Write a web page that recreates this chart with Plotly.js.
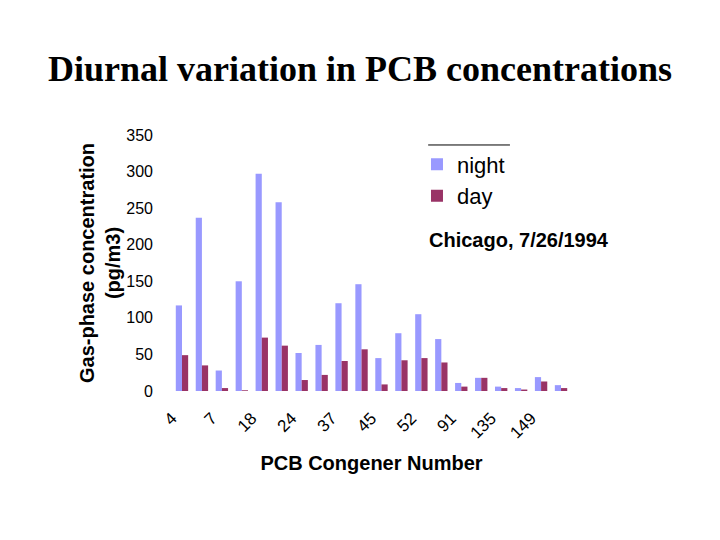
<!DOCTYPE html>
<html>
<head>
<meta charset="utf-8">
<script src="https://cdn.plot.ly/plotly-3.0.1.min.js"></script>
<style>html,body{margin:0;padding:0;background:#fff;}#chart{width:720px;height:540px;}</style>
</head>
<body>
<div id="chart"></div>
<script>
// Category index (20 congener groups), every other one labelled
var groupIndex = [0,1,2,3,4,5,6,7,8,9,10,11,12,13,14,15,16,17,18,19];
var tickPositions = [0,2,4,6,8,10,12,14,16,18];
var tickLabels = ["4","7","18","24","37","45","52","91","135","149"];
var nightValues = [117,237,28,150,297,258,52,63,120,146,45,79,105,71,11,18,6,4,19,8];
var dayValues = [49,35,4,1,73,62,15,22,41,57,9,42,45,39,6,18,4,2,13,4];

var traces = [
  {type:'bar', name:'night', x:groupIndex, y:nightValues, marker:{color:'#9999FF'}},
  {type:'bar', name:'day', x:groupIndex, y:dayValues, marker:{color:'#993366'}}
];

var layout = {
  width:720, height:540,
  margin:{l:172, r:149, t:135, b:149, pad:0},
  paper_bgcolor:'#fff', plot_bgcolor:'#fff',
  barmode:'group', bargap:0.38, bargroupgap:0,
  title:{text:'Diurnal variation in PCB concentrations', x:0.5, xanchor:'center', y:0.874, yanchor:'middle',
         font:{family:'Liberation Serif', size:36, color:'#000', weight:'bold'}},
  showlegend:true,
  legend:{x:0.614, y:0.967, xanchor:'left', yanchor:'top', bgcolor:'rgba(0,0,0,0)',
          font:{family:'Liberation Sans', size:22, color:'#000'}, itemwidth:30, tracegroupgap:0},
  xaxis:{range:[-0.5,19.5], tickmode:'array', tickvals:tickPositions, ticktext:tickLabels, tickangle:-45,
         showline:false, showgrid:false, zeroline:false, ticks:'',
         ticklabelshift:-10, ticklabelstandoff:13,
         tickfont:{family:'Liberation Sans', size:17, color:'#000'},
         title:{text:'PCB Congener Number', font:{family:'Liberation Sans', size:20, color:'#000', weight:'bold'}, standoff:14}},
  yaxis:{range:[0,350], tickmode:'array', tickvals:[0,50,100,150,200,250,300,350],
         showline:false, showgrid:false, zeroline:false, ticks:'', ticklabelstandoff:18,
         tickfont:{family:'Liberation Sans', size:16, color:'#000'},
         title:{text:'Gas-phase concentration<br>(pg/m3)', font:{family:'Liberation Sans', size:20, color:'#000', weight:'bold'}, standoff:0}},
  shapes:[{type:'line', xref:'paper', yref:'paper', x0:0.642, x1:0.847, y0:0.961, y1:0.961, line:{color:'#000', width:1}}],
  annotations:[{text:'<b>Chicago, 7/26/1994</b>', xref:'paper', yref:'paper', x:0.639, y:0.59, xanchor:'left', yanchor:'middle',
                showarrow:false, font:{family:'Liberation Sans', size:20, color:'#000'}}]
};

Plotly.newPlot('chart', traces, layout, {displayModeBar:false, staticPlot:true});
</script>
</body>
</html>
